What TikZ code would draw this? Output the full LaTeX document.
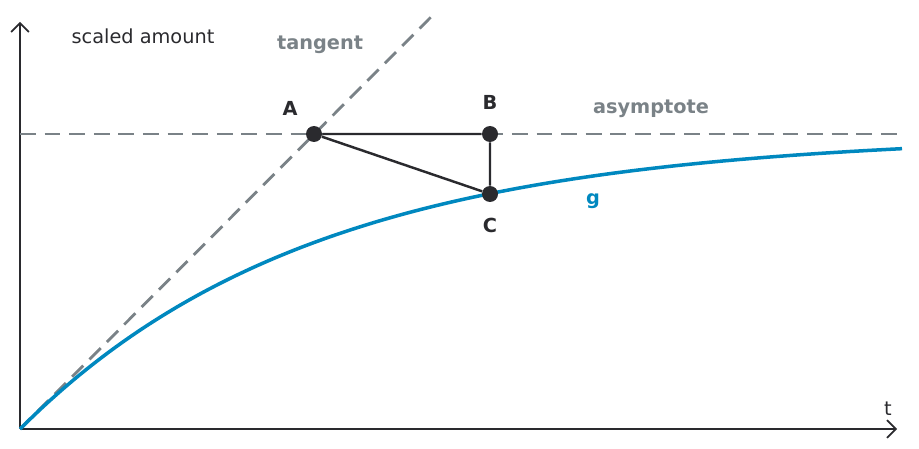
\documentclass[tikz,border=0pt]{standalone}
\usepackage{fontspec}
\setmainfont{DejaVu Sans}
\usetikzlibrary{arrows.meta}
\definecolor{ink}{HTML}{2A2A2E}
\definecolor{guide}{HTML}{7A8287}
\definecolor{curve}{HTML}{0088BF}
\tikzset{
  dot/.style={circle, inner sep=0pt, minimum size=0.32cm, fill=ink},
  guideline/.style={guide, line width=1.6pt, dash pattern=on 9pt off 5pt},
  lbl/.style={font=\fontsize{11}{13}\selectfont\bfseries}
}
\begin{document}
\begin{tikzpicture}[x=0.02cm, y=-0.02cm]
    \useasboundingbox (0,0) rectangle (919,449);
    % axes
    \coordinate (o) at (20,429);
    \coordinate (xend) at (897,429);
    \coordinate (yend) at (20,22);
    \draw[ink, line width=1pt, -{Straight Barb[length=5pt]}] (o) -- (xend);
    \draw[ink, line width=1pt, -{Straight Barb[length=5pt]}] (o) -- (yend);
    \node[ink, font=\fontsize{11}{13}\selectfont] (ylab) at (143,36) {scaled amount};
    \node[ink, font=\fontsize{11}{13}\selectfont] (xlab) at (888,409) {t};
    % guides
    \coordinate (asyL) at (20,134);
    \coordinate (asyR) at (902,134);
    \coordinate (tanE) at (432,16);
    \draw[guideline] (asyL) -- (asyR);
    \draw[guideline] (o) -- (tanE);
    \node[lbl, guide] (tan) at (320,45) {tangent};
    \node[lbl, guide] (asy) at (651,109) {asymptote};
    % curve
    \draw[curve, line width=2pt] plot[domain=0:882, samples=120]
        ({20+\x}, {429-295*(1-exp(-\x/294))});
    \node[lbl, curve] (g) at (593,201) {g};
    % triangle
    \node[dot] (A) at (314,134) {};
    \node[dot] (B) at (490,134) {};
    \node[dot] (C) at (490,194) {};
    \draw[ink, line width=1.4pt] (A) -- (B) -- (C) -- (A);
    \node[lbl, ink] at (290,108) {A};
    \node[lbl, ink] at (490,102) {B};
    \node[lbl, ink] at (490,225) {C};
\end{tikzpicture}
\end{document}
